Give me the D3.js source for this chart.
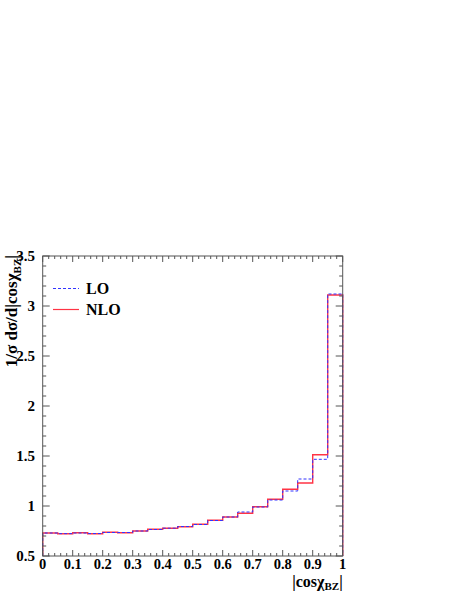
<!DOCTYPE html>
<html><head><meta charset="utf-8">
<script src="https://cdn.jsdelivr.net/npm/d3@7"></script>
<style>body{margin:0;background:#fff}svg{display:block}</style>
</head><body>
<script>
const binEdges = [0,0.05,0.1,0.15,0.2,0.25,0.3,0.35,0.4,0.45,0.5,0.55,0.6,0.65,0.7,0.75,0.8,0.85,0.9,0.95,1.0];
const nloValues = [0.73,0.722,0.732,0.722,0.737,0.733,0.75,0.767,0.777,0.793,0.817,0.857,0.89,0.927,0.993,1.067,1.167,1.23,1.513,3.11];
const loValues  = [0.73,0.724,0.73,0.725,0.735,0.735,0.75,0.765,0.778,0.795,0.815,0.855,0.89,0.94,0.99,1.06,1.15,1.27,1.467,3.12];
const xTicks = [0,0.1,0.2,0.3,0.4,0.5,0.6,0.7,0.8,0.9,1];
const yTicks = [0.5,1,1.5,2,2.5,3,3.5];
const seriesNames = ["LO","NLO"];

const W=463,H=599;
const svg=d3.select("body").append("svg").attr("width",W).attr("height",H);
const L=42.7,R=342.7,T=256,B=556;
const x=d3.scaleLinear().domain([0,1]).range([L,R]);
const y=d3.scaleLinear().domain([0.5,3.5]).range([B,T]);
const font="'Liberation Serif','Times New Roman',serif";
const axCol="#555";

function histPath(vals){
  const p=d3.path();
  p.moveTo(x(binEdges[0]),y(0.5));
  vals.forEach((v,i)=>{p.lineTo(x(binEdges[i]),y(v));p.lineTo(x(binEdges[i+1]),y(v));});
  p.lineTo(x(binEdges[binEdges.length-1]),y(0.5));
  return p.toString();
}
svg.append("path").attr("d",histPath(nloValues)).attr("fill","none").attr("stroke","#ff3344").attr("stroke-width",1.4);
svg.append("path").attr("d",histPath(loValues)).attr("fill","none").attr("stroke","#3333ff").attr("stroke-width",1).attr("stroke-dasharray","3,2");

const minorX=d3.range(0,1.0001,0.02);
const minorY=d3.range(0.5,3.5001,0.1);
const g=svg.append("g").attr("stroke",axCol).attr("stroke-width",1);
g.append("rect").attr("x",L).attr("y",T).attr("width",R-L).attr("height",B-T).attr("fill","none");
minorX.forEach(v=>{
  const major=xTicks.some(t=>Math.abs(t-v)<1e-6);
  const len=major?6:3;
  g.append("line").attr("x1",x(v)).attr("x2",x(v)).attr("y1",B).attr("y2",B-len);
  g.append("line").attr("x1",x(v)).attr("x2",x(v)).attr("y1",T).attr("y2",T+len);
});
minorY.forEach(v=>{
  const major=yTicks.some(t=>Math.abs(t-v)<1e-6);
  const len=major?7:3.5;
  g.append("line").attr("y1",y(v)).attr("y2",y(v)).attr("x1",L).attr("x2",L+len);
  g.append("line").attr("y1",y(v)).attr("y2",y(v)).attr("x1",R).attr("x2",R-len);
});

svg.selectAll(".xt").data(xTicks).enter().append("text")
  .attr("x",d=>x(d)).attr("y",569).attr("text-anchor","middle")
  .attr("font-family",font).attr("font-weight","bold").attr("font-size",14.5)
  .text(d=>d3.format("")(d));
svg.selectAll(".yt").data(yTicks).enter().append("text")
  .attr("x",35).attr("y",d=>y(d)+5).attr("text-anchor","end")
  .attr("font-family",font).attr("font-weight","bold").attr("font-size",15)
  .text(d=>d);

const xt=svg.append("text").attr("x",R).attr("y",587).attr("text-anchor","end")
  .attr("font-family",font).attr("font-weight","bold").attr("font-size",16);
xt.append("tspan").text("|cosχ");
xt.append("tspan").attr("font-size",11).attr("dy",3).text("BZ");
xt.append("tspan").attr("dy",-3).text("|");

const yt=svg.append("text").attr("transform",`translate(17,${T-1}) rotate(-90)`).attr("text-anchor","end")
  .attr("font-family",font).attr("font-weight","bold").attr("font-size",17);
yt.append("tspan").text("1/σ dσ/d|cosχ");
yt.append("tspan").attr("font-size",11).attr("dy",4).text("BZ");
yt.append("tspan").attr("dy",-4).text("|");

const leg=[{name:seriesNames[0],col:"#3333ff",dash:"3,2",yy:288.5,w:1},{name:seriesNames[1],col:"#ff3344",dash:null,yy:309.5,w:1.2}];
leg.forEach(d=>{
  svg.append("line").attr("x1",53).attr("x2",79).attr("y1",d.yy).attr("y2",d.yy)
    .attr("stroke",d.col).attr("stroke-width",d.w).attr("stroke-dasharray",d.dash);
  svg.append("text").attr("x",86).attr("y",d.yy+5.5).attr("font-family",font).attr("font-weight","bold").attr("font-size",16).text(d.name);
});
</script>
</body></html>
